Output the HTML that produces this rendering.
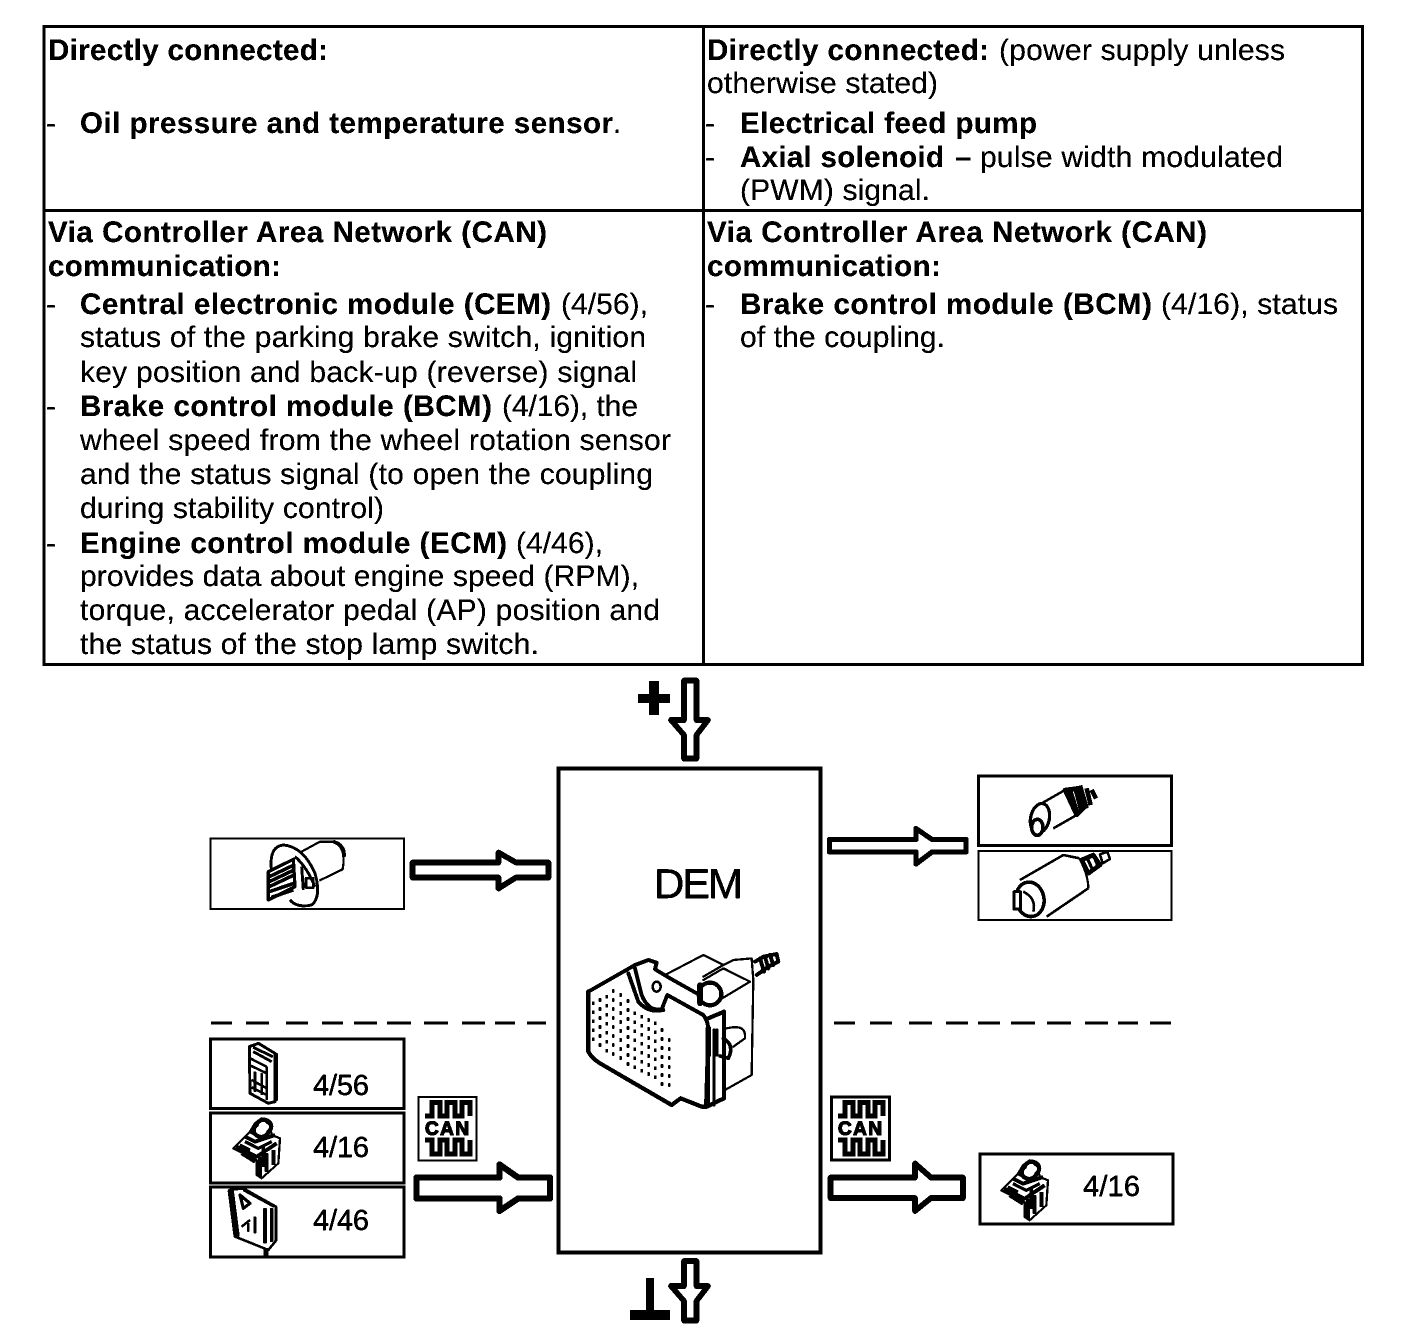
<!DOCTYPE html>
<html lang="en">
<head>
<meta charset="utf-8">
<title>DEM diagram</title>
<style>
html,body{margin:0;padding:0;background:#fff;width:1408px;height:1336px;overflow:hidden}
svg{display:block}
text{font-family:"Liberation Sans",sans-serif;font-size:30px;fill:#000}
.b{font-weight:bold;font-size:29.5px}
.n{font-size:29px;stroke:#000;stroke-width:.3}
</style>
</head>
<body>
<svg xmlns="http://www.w3.org/2000/svg" width="1408" height="1336" viewBox="0 0 1408 1336">
<defs>
<filter id="bw" x="0" y="0" width="100%" height="100%" color-interpolation-filters="sRGB">
<feComponentTransfer>
<feFuncR type="discrete" tableValues="0 0 0 1"/>
<feFuncG type="discrete" tableValues="0 0 0 1"/>
<feFuncB type="discrete" tableValues="0 0 0 1"/>
</feComponentTransfer>
</filter>
<g id="bcm" fill="none" stroke="#000" stroke-linejoin="round">
<g transform="translate(200,1010) scale(.3333)">
<path d="M100,415 L150,365 L165,340 L185,325 L210,345 L215,375 L240,385 L235,460 L185,505 L170,495 L170,450 Z" fill="#fff" stroke-width="6"/>
<path d="M170,345 A22,20 0 1 1 205,365 A22,20 0 1 1 170,345Z" stroke-width="12"/>
<path d="M135,380 L165,395 L225,375 M110,410 L170,440 L230,400 M125,430 L165,455 M180,440 L180,500 M200,430 L200,485 M220,420 L220,465" stroke-width="11"/>
<path d="M150,365 L190,385 M120,405 L150,420 M135,395 L175,415 L215,395 M190,410 V470" stroke-width="9"/>
</g>
</g>
<g id="can" fill="none" stroke="#000">
<path d="M425,1116 H432 V1102.5 H440 V1116 H447 V1102.5 H455 V1116 H462 V1102.5 H470 V1116" stroke-width="5"/>
<path d="M425,1140 H432 V1154 H440 V1140 H447 V1154 H455 V1140 H462 V1154 H470 V1140" stroke-width="5"/>
</g>
</defs>
<g filter="url(#bw)">
<rect width="1408" height="1336" fill="#fff"/>

<!-- table -->
<g fill="#000">
<rect x="42.5" y="25" width="1320.5" height="3"/>
<rect x="42.5" y="663" width="1320.5" height="3"/>
<rect x="42.5" y="25" width="3" height="641"/>
<rect x="1361" y="25" width="3" height="641"/>
<rect x="702" y="25" width="3" height="641"/>
<rect x="43" y="209" width="1320" height="3"/>
</g>

<!-- left column -->
<text class="b" x="48" y="60" textLength="280">Directly connected:</text>
<text x="46" y="133">-</text>
<text class="b" x="80" y="133" textLength="533">Oil pressure and temperature sensor</text>
<text x="613" y="133">.</text>
<text class="b" x="48" y="242" textLength="499">Via Controller Area Network (CAN)</text>
<text class="b" x="48" y="276" textLength="233">communication:</text>
<text x="46" y="314">-</text>
<text class="b" x="80" y="314" textLength="471">Central electronic module (CEM)</text>
<text x="561" y="314" textLength="87">(4/56),</text>
<text x="80" y="347" textLength="566">status of the parking brake switch, ignition</text>
<text x="80" y="382" textLength="557">key position and back-up (reverse) signal</text>
<text x="46" y="416">-</text>
<text class="b" x="80" y="416" textLength="412">Brake control module (BCM)</text>
<text x="502" y="416" textLength="136">(4/16), the</text>
<text x="80" y="450" textLength="591">wheel speed from the wheel rotation sensor</text>
<text x="80" y="484" textLength="573">and the status signal (to open the coupling</text>
<text x="80" y="518" textLength="304">during stability control)</text>
<text x="46" y="553">-</text>
<text class="b" x="80" y="553" textLength="427">Engine control module (ECM)</text>
<text x="516" y="553" textLength="87">(4/46),</text>
<text x="80" y="586" textLength="559">provides data about engine speed (RPM),</text>
<text x="80" y="620" textLength="580">torque, accelerator pedal (AP) position and</text>
<text x="80" y="654" textLength="459">the status of the stop lamp switch.</text>

<!-- right column -->
<text class="b" x="707" y="60" textLength="282">Directly connected:</text>
<text x="999" y="60" textLength="286">(power supply unless</text>
<text x="707" y="93" textLength="231">otherwise stated)</text>
<text x="705" y="133">-</text>
<text class="b" x="740" y="133" textLength="297">Electrical feed pump</text>
<text x="705" y="167">-</text>
<text class="b" x="740" y="167" textLength="204">Axial solenoid</text>
<text class="b" x="955" y="167">–</text>
<text x="980" y="167" textLength="303">pulse width modulated</text>
<text x="740" y="200" textLength="190">(PWM) signal.</text>
<text class="b" x="707" y="242" textLength="500">Via Controller Area Network (CAN)</text>
<text class="b" x="707" y="276" textLength="234">communication:</text>
<text x="705" y="314">-</text>
<text class="b" x="740" y="314" textLength="412">Brake control module (BCM)</text>
<text x="1161" y="314" textLength="177">(4/16), status</text>
<text x="740" y="347" textLength="205">of the coupling.</text>

<!-- DEM box -->
<rect x="558.5" y="768.5" width="262" height="484" fill="none" stroke="#000" stroke-width="3.5"/>
<text x="654" y="898" style="font-size:42px;stroke:#000;stroke-width:.3" textLength="89">DEM</text>

<!-- plus / ground -->
<path d="M649,681h10v13h11v9h-11v12h-10v-12h-11v-9h11z" fill="#000"/>
<path d="M646,1278h8v32h16v10h-40v-10h16z" fill="#000"/>

<!-- block arrows -->
<g fill="#fff" stroke="#000" stroke-linejoin="round">
<path d="M684,680.5 H696.5 V720 H708 L696.5,735 V758.5 H684 V735 L671,720 H684 Z" stroke-width="5.5"/>
<path d="M684,1261 H696.5 V1286 H708 L696.5,1301 V1320.5 H684 V1301 L671,1286 H684 Z" stroke-width="5.5"/>
<path d="M412.5,862.5 H498.5 V852.5 L516,862.5 H548.5 V877.5 H516 L498.5,888.5 V877.5 H412.5 Z" stroke-width="5.5"/>
<path d="M416.5,1177.5 H499.5 V1164.5 L518,1177.5 H550 V1198.5 H518 L499.5,1211 V1198.5 H416.5 Z" stroke-width="6"/>
<path d="M829.5,839.5 H916 V828.5 L932,839.5 H966 V852 H932 L916,864 V852 H829.5 Z" stroke-width="5"/>
<path d="M830.5,1177.5 H915 V1163.5 L931,1177.5 H963 V1198 H931 L915,1211 V1198 H830.5 Z" stroke-width="5.5"/>
</g>

<!-- dashed lines -->
<g stroke="#000" stroke-width="3" fill="none">
<path d="M211,1023H232M246,1023H269M286,1023H308M322,1023H343M354,1023H377M387,1023H411M424,1023H448M462,1023H485M495,1023H515M527,1023H546"/>
<path d="M834,1023H855M870,1023H892M909,1023H932M946,1023H968M978,1023H1000M1011,1023H1035M1047,1023H1071M1085,1023H1108M1118,1023H1138M1150,1023H1171"/>
</g>

<!-- icon boxes -->
<g fill="none" stroke="#000">
<rect x="210.5" y="838.5" width="193.5" height="70.5" stroke-width="2"/>
<rect x="210.5" y="1039" width="193.5" height="69.5" stroke-width="2.5"/>
<rect x="210.5" y="1113" width="193.5" height="70" stroke-width="2.5"/>
<rect x="210.5" y="1187" width="193.5" height="70" stroke-width="2.5"/>
<rect x="978.5" y="776" width="193" height="69.5" stroke-width="2.5"/>
<rect x="978.5" y="851" width="193" height="69" stroke-width="2"/>
<rect x="980" y="1154" width="193" height="70" stroke-width="2.5"/>
<rect x="418.5" y="1097" width="58" height="63.5" stroke-width="2"/>
<rect x="831.5" y="1097" width="58" height="63" stroke-width="2.5"/>
</g>

<!-- CAN icons -->
<use href="#can"/>
<text x="425" y="1135" style="font-size:19px;font-weight:bold;stroke:#000;stroke-width:1" textLength="44">CAN</text>
<use href="#can" transform="translate(413,0)"/>
<text x="838" y="1135" style="font-size:19px;font-weight:bold;stroke:#000;stroke-width:1" textLength="44">CAN</text>

<!-- numbers -->
<text class="n" x="313" y="1095" textLength="56">4/56</text>
<text class="n" x="313" y="1157" textLength="56">4/16</text>
<text class="n" x="313" y="1230" textLength="56">4/46</text>
<text class="n" x="1083" y="1196" textLength="57">4/16</text>

<!-- sensor -->
<g transform="translate(200,670) scale(.3333)" fill="none" stroke="#000" stroke-linejoin="round">
<path d="M305,545 L360,515 L400,515 Q440,530 428,598 L358,632" stroke-width="6"/>
<path d="M400,515 Q435,525 432,560" stroke-width="10"/>
<path d="M215,605 Q205,530 250,525 Q310,530 345,610 Q365,680 335,705 Q290,715 270,690" stroke-width="8"/>
<path d="M285,560 Q320,590 345,650 M305,590 L310,660" stroke-width="8"/>
<rect x="318" y="625" width="22" height="28" stroke-width="7"/>
<path d="M205,605 L280,568 L285,650 L205,690 Z" fill="#fff" stroke-width="9"/>
<path d="M208,620 L282,585 M208,635 L282,600 M208,650 L282,615 M208,665 L282,640 M215,682 L280,660" stroke-width="10"/>
</g>

<!-- connector 4/56 -->
<g transform="translate(200,1010) scale(.3333)" fill="none" stroke="#000" stroke-linejoin="round">
<path d="M148,110 L175,100 L225,130 L225,275 L205,280 L150,250 Z" fill="#fff" stroke-width="8"/>
<path d="M228,130 V272" stroke-width="12"/>
<path d="M150,145 L200,170 M148,165 L200,190 M165,185 V245 M185,190 V255 M200,170 V270 M155,210 L200,235 M155,232 L200,255" stroke-width="7"/>
<path d="M160,112 L218,140 M160,125 L215,155" stroke-width="8"/>
</g>

<!-- BCM -->
<use href="#bcm"/>
<use href="#bcm" transform="translate(768,42)"/>

<!-- ECM 4/46 -->
<g transform="translate(200,1010) scale(.3333)" fill="none" stroke="#000" stroke-linejoin="round">
<path d="M88,540 L130,535 L228,590 L228,692 L205,720 L105,680 Z" fill="#fff" stroke-width="7"/>
<path d="M92,540 L110,680" stroke-width="18"/>
<path d="M120,555 L150,580 L130,595 Z" stroke-width="9"/>
<path d="M195,595 V700 M215,595 V695" stroke-width="10"/>
<path d="M130,540 L222,590 M150,630 L125,650 M165,620 V670 M145,640 V665" stroke-width="7"/>
<path d="M198,715 V742" stroke-width="13"/>
</g>

<!-- solenoids -->
<g transform="translate(820,765) scale(.3333)" fill="none" stroke="#000" stroke-linejoin="round">
<path d="M665,115 L735,75 M700,190 L770,150" stroke-width="7"/>
<ellipse cx="660" cy="160" rx="28" ry="45" transform="rotate(12 660 160)" stroke-width="9"/>
<ellipse cx="652" cy="187" rx="17" ry="24" fill="#fff" stroke-width="10"/>
<path d="M735,75 L775,70 L790,130 L770,150 Z M750,75 L772,145 M765,65 L785,140 M780,62 L800,130 M800,70 L812,120 M815,75 L828,100" stroke-width="13"/>
<path d="M600,345 L730,270 L778,280 M805,370 L680,455" stroke-width="7"/>
<path d="M778,280 Q805,330 805,370" stroke-width="6"/>
<ellipse cx="630" cy="403" rx="42" ry="52" transform="rotate(-10 630 403)" stroke-width="10"/>
<path d="M582,380 H602 V432 H582 Z" fill="#fff" stroke-width="8"/>
<path d="M610,380 Q650,400 640,440" stroke-width="7"/>
<path d="M785,285 L820,270 L840,300 L805,325 Z" stroke-width="13"/>
<path d="M800,275 L820,320 M820,270 L835,305" stroke-width="9"/>
<path d="M840,268 L862,260 L870,282 L848,295 Z" stroke-width="7"/>
</g>

<!-- DEM module -->
<g transform="translate(560,930) scale(.3333)" fill="none" stroke="#000" stroke-linejoin="round" stroke-linecap="round">
<path d="M315,135 L430,75 L490,105 L520,90 L575,85 L580,150 L575,435 L495,480" stroke-width="6"/>
<path d="M430,150 L490,115 L570,155 L495,200 L470,215 M490,105 L430,140" stroke-width="6"/>
<path d="M585,95 L610,80 L650,72 L655,95 L625,110 L590,135 M600,85 L612,125 M615,80 L625,115 M630,75 L640,105" stroke-width="11"/>
<ellipse cx="450" cy="192" rx="34" ry="34" stroke-width="12"/>
<path d="M420,165 V220" stroke-width="16"/>
<path d="M85,185 L190,125 L225,105 L265,90 L290,98 L285,118 L330,145 L410,190 M225,115 L245,195 Q265,245 305,238 L322,195 L430,255 Q445,275 445,300 L438,530 M205,130 L235,215 Q265,250 310,240" stroke-width="11"/>
<path d="M85,185 V365 Q95,385 120,400 L335,525 L362,505 L425,530 L440,530 L492,505 L492,245 L445,265" stroke-width="12"/>
<path d="M445,290 V530 M462,300 V525" stroke-width="8"/>
<ellipse cx="290" cy="170" rx="12" ry="15" stroke-width="7"/>
<path d="M445,295 V375" stroke-width="16"/>
<path d="M470,300 V375 M490,325 Q525,345 505,385 L480,378" stroke-width="10"/>
<path d="M500,295 Q560,280 555,325 L520,350" stroke-width="6"/>
<g stroke-width="7" stroke-dasharray="10 17" stroke-linecap="butt">
<path d="M100,215 V350"/><path d="M120,205 V362"/><path d="M140,195 V372"/><path d="M160,178 V385"/>
<path d="M182,190 V398"/><path d="M204,208 V410"/><path d="M224,245 V425"/><path d="M245,255 V436"/>
<path d="M266,265 V448"/><path d="M286,275 V460"/><path d="M306,295 V470"/><path d="M328,325 V480"/>
</g>
</g>
</g>
</svg>
</body>
</html>
